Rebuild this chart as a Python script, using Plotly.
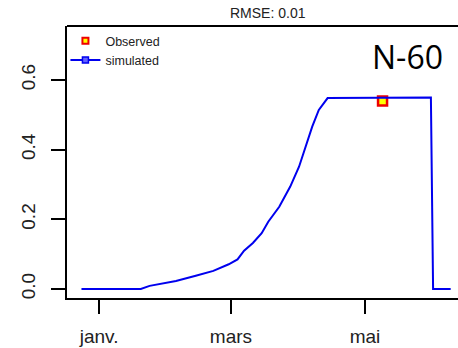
import plotly.graph_objects as go

# Simulated series (date, value)
sim_dates = [
    "2015-12-24", "2016-01-20", "2016-01-24", "2016-02-05", "2016-02-14",
    "2016-02-22", "2016-02-29", "2016-03-04", "2016-03-07", "2016-03-11",
    "2016-03-15", "2016-03-18", "2016-03-23", "2016-03-28", "2016-04-01",
    "2016-04-04", "2016-04-07", "2016-04-10", "2016-04-14", "2016-05-31",
    "2016-06-01", "2016-06-09",
]
sim_values = [
    0.0, 0.0, 0.009, 0.023, 0.038,
    0.052, 0.071, 0.085, 0.110, 0.132,
    0.160, 0.193, 0.236, 0.294, 0.351,
    0.408, 0.466, 0.514, 0.548, 0.55,
    0.0, 0.0,
]

# Observed value
obs_dates = ["2016-05-09"]
obs_values = [0.54]

rmse_label = "RMSE: 0.01"
panel_label = "N-60"

x_tick_vals = ["2016-01-01", "2016-03-01", "2016-05-01"]
x_tick_text = ["janv.", "mars", "mai"]
y_tick_vals = [0.0, 0.2, 0.4, 0.6]
y_tick_text = ["0.0", "0.2", "0.4", "0.6"]

FONT = "Liberation Sans, Arial, sans-serif"
RED = "#ee0000"
YELLOW = "#ffff00"
BLUE = "#0000ee"

fig = go.Figure()

# Data traces
fig.add_trace(go.Scatter(
    x=obs_dates, y=obs_values, mode="markers", name="Observed",
    showlegend=False,
    marker=dict(symbol="square", size=9, color=YELLOW,
                line=dict(color=RED, width=2.5)),
))
fig.add_trace(go.Scatter(
    x=sim_dates, y=sim_values, mode="lines", name="simulated",
    showlegend=False,
    line=dict(color=BLUE, width=2),
))

# Legend keys (no data, legend only)
fig.add_trace(go.Scatter(
    x=[None], y=[None], mode="markers", name="Observed",
    marker=dict(symbol="square", size=6, color=YELLOW,
                line=dict(color=RED, width=2)),
))
fig.add_trace(go.Scatter(
    x=[None], y=[None], mode="lines+markers", name="simulated",
    line=dict(color=BLUE, width=2),
    marker=dict(symbol="square", size=6, color="#6060ff",
                line=dict(color=BLUE, width=1.5)),
))

axis_common = dict(
    showline=True, linecolor="black", linewidth=2,
    ticks="outside", ticklen=14, tickwidth=2, tickcolor="black",
    showgrid=False, zeroline=False,
    tickfont=dict(family=FONT, size=19, color="#222222"),
)

fig.update_xaxes(
    type="date",
    range=["2015-12-17 10:00", "2016-06-12 08:00"],
    tickmode="array", tickvals=x_tick_vals, ticktext=x_tick_text,
    ticklabelstandoff=6,
    **axis_common,
)
fig.update_yaxes(
    range=[-0.0258, 0.755],
    tickmode="array", tickvals=y_tick_vals, ticktext=y_tick_text,
    tickangle=-90, ticklabelstandoff=8,
    **axis_common,
)

# Top border of the frame
fig.add_shape(type="line", xref="paper", yref="paper",
              x0=0, x1=1, y0=1, y1=1,
              line=dict(color="black", width=2))

fig.add_annotation(text=rmse_label, xref="paper", yref="paper",
                   x=0.513, y=1, yanchor="bottom", yshift=3,
                   showarrow=False,
                   font=dict(family=FONT, size=14, color="#222222"))
fig.add_annotation(text=panel_label, xref="paper", yref="paper",
                   x=0.872, y=0.888, xanchor="center", yanchor="middle",
                   showarrow=False,
                   font=dict(family="Open Sans, sans-serif", size=32, color="black"))

fig.update_layout(
    width=458, height=348,
    margin=dict(l=67, r=0, t=26, b=50),
    paper_bgcolor="white", plot_bgcolor="white",
    showlegend=True,
    legend=dict(x=-0.004, y=1.0, xanchor="left", yanchor="top",
                bgcolor="rgba(0,0,0,0)",
                font=dict(family=FONT, size=12.5, color="#222222"),
                tracegroupgap=0, itemwidth=30),
)

fig.write_html("out.html")
